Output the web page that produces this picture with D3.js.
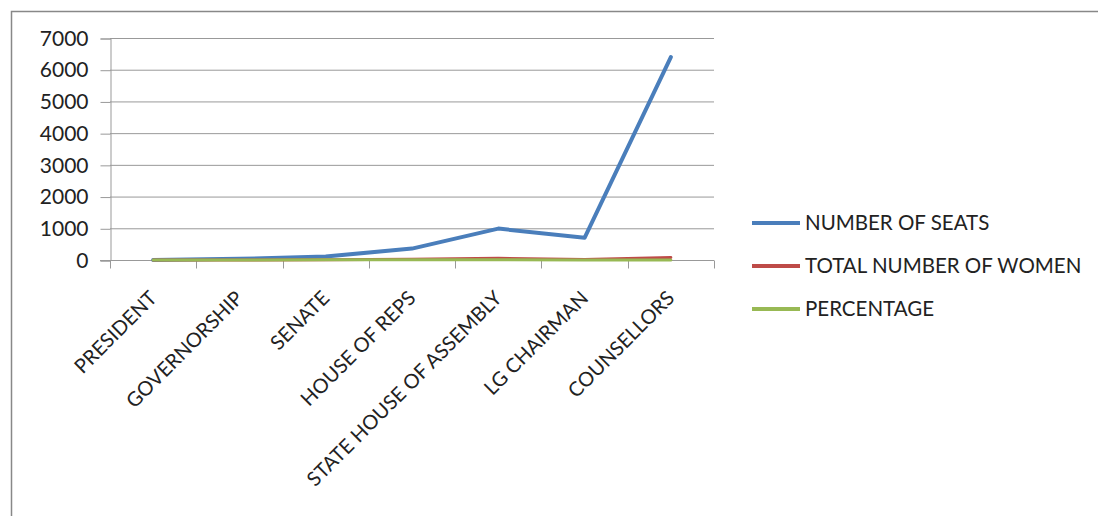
<!DOCTYPE html>
<html>
<head>
<meta charset="utf-8">
<script src="https://cdn.jsdelivr.net/npm/d3@7"></script>
<style>
  body { margin: 0; background: #fff; }
  text { font-family: Lato, "Open Sans", sans-serif; fill: #222; }
</style>
</head>
<body>
<div id="chart"></div>
<script>
// Chart data
var categories = ["PRESIDENT", "GOVERNORSHIP", "SENATE", "HOUSE OF REPS",
                  "STATE HOUSE OF ASSEMBLY", "LG CHAIRMAN", "COUNSELLORS"];
var seats = [1, 36, 109, 360, 990, 700, 6400];
var women = [0, 0, 8, 26, 55, 15, 80];
var percentage = [0, 0, 7.3, 7.2, 5.6, 2.1, 1.3];
var yTicks = [0, 1000, 2000, 3000, 4000, 5000, 6000, 7000];

var series = [
    { name: "NUMBER OF SEATS", values: seats, color: "#4a7ebb", width: 4 },
    { name: "TOTAL NUMBER OF WOMEN", values: women, color: "#be4b48", width: 3 },
    { name: "PERCENTAGE", values: percentage, color: "#98b954", width: 3 }
];

var width = 1098, height = 516;
var plot = { left: 110, right: 714, top: 38, bottom: 260 };

var svg = d3.select("#chart").append("svg")
    .attr("width", width)
    .attr("height", height);

// Outer frame (top and left edges visible)
svg.append("path")
    .attr("d", "M11.5," + height + "V11.5H" + width)
    .attr("fill", "none")
    .attr("stroke", "#888")
    .attr("stroke-width", 1.5);

var x = d3.scaleBand().domain(categories).range([plot.left, plot.right]);
var y = d3.scaleLinear().domain([0, 7000]).range([plot.bottom, plot.top]);

// Gridlines
svg.append("g").selectAll("line")
    .data(yTicks.slice(1))
    .enter().append("line")
    .attr("x1", plot.left).attr("x2", plot.right)
    .attr("y1", d => y(d) + 0.5).attr("y2", d => y(d) + 0.5)
    .attr("stroke", "#999").attr("stroke-width", 1);

// Y axis
var yAxis = svg.append("g")
    .attr("transform", "translate(" + (plot.left + 0.5) + ",0.5)")
    .call(d3.axisLeft(y).tickValues(yTicks).tickSize(10).tickPadding(12).tickFormat(d3.format("d")));
yAxis.select(".domain").attr("stroke", "#999");
yAxis.selectAll(".tick line").attr("stroke", "#999");
yAxis.selectAll("text").style("font-size", "21px").style("fill", "#222");

// X axis with ticks at category boundaries
var xAxis = svg.append("g")
    .attr("transform", "translate(0," + (plot.bottom + 0.5) + ")");
xAxis.append("line")
    .attr("x1", plot.left - 10).attr("x2", plot.right)
    .attr("stroke", "#999");
xAxis.selectAll(".bound")
    .data(categories.concat([null]))
    .enter().append("line")
    .attr("x1", (d, i) => Math.round(plot.left + i * x.step()) + 0.5)
    .attr("x2", (d, i) => Math.round(plot.left + i * x.step()) + 0.5)
    .attr("y1", 0).attr("y2", 8)
    .attr("stroke", "#999");
xAxis.selectAll(".lab")
    .data(categories)
    .enter().append("text")
    .attr("transform", d => "translate(" + (x(d) + x.bandwidth() / 2 - 5) + ",29) rotate(-45)")
    .attr("text-anchor", "end")
    .attr("dy", "0.7em")
    .style("font-size", "20px")
    .text(d => d);

// Lines (blue first, green on top)
var line = d3.line()
    .x((d, i) => x(categories[i]) + x.bandwidth() / 2)
    .y(d => y(d));

series.forEach(function(s) {
    svg.append("path")
        .datum(s.values)
        .attr("d", line)
        .attr("fill", "none")
        .attr("stroke", s.color)
        .attr("stroke-width", s.width)
        .attr("stroke-linejoin", "round")
        .attr("stroke-linecap", "round");
});

// Legend
var legend = svg.append("g").attr("transform", "translate(752,223)");
var items = legend.selectAll("g")
    .data(series)
    .enter().append("g")
    .attr("transform", (d, i) => "translate(0," + i * 43 + ")");
items.append("line")
    .attr("x1", 0).attr("x2", 48)
    .attr("stroke", d => d.color)
    .attr("stroke-width", 4);
items.append("text")
    .attr("x", 53)
    .attr("dy", "0.35em")
    .style("font-size", "20.5px")
    .text(d => d.name);
</script>
</body>
</html>
